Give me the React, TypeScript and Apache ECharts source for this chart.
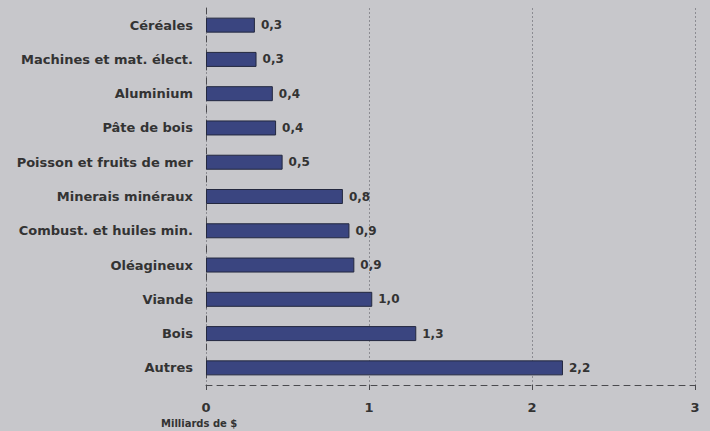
import React, { useEffect, useRef } from "react";
import * as echarts from "echarts";

const categories = [
  "Céréales",
  "Machines et mat. élect.",
  "Aluminium",
  "Pâte de bois",
  "Poisson et fruits de mer",
  "Minerais minéraux",
  "Combust. et huiles min.",
  "Oléagineux",
  "Viande",
  "Bois",
  "Autres",
];
const values = [0.3, 0.31, 0.41, 0.43, 0.47, 0.84, 0.88, 0.91, 1.02, 1.29, 2.19];
const xTicks = [0, 1, 2, 3];
const axisTitle = "Milliards de $";

export default function App() {
  const ref = useRef<HTMLDivElement>(null);
  useEffect(() => {
    if (!ref.current) return;
    const chart = echarts.init(ref.current, null, { renderer: "svg" });
    const font = "DejaVu Sans, sans-serif";
    chart.setOption({
      animation: false,
      backgroundColor: "#c7c7cb",
      grid: { left: 206, right: 15, top: 8, bottom: 46, containLabel: false },
      xAxis: {
        type: "value",
        min: xTicks[0],
        max: xTicks[xTicks.length - 1],
        interval: 1,
        axisLine: { show: true, lineStyle: { color: "#4a4a4e", type: [6, 5], width: 1 } },
        axisTick: { show: true, length: 5, lineStyle: { color: "#4a4a4e" } },
        axisLabel: {
          color: "#333",
          fontWeight: "bold",
          fontSize: 13,
          fontFamily: font,
          margin: 16,
        },
        splitLine: { show: true, lineStyle: { color: "#8c8c92", type: [2, 2], width: 1 } },
      },
      yAxis: {
        type: "category",
        data: categories,
        inverse: true,
        axisLine: { show: true, lineStyle: { color: "#4a4a4e", type: [6, 8], width: 1 } },
        axisTick: { show: false },
        axisLabel: {
          color: "#333",
          fontWeight: "bold",
          fontSize: 13,
          fontFamily: font,
          margin: 13,
        },
      },
      graphic: [
        {
          type: "text",
          left: 161,
          top: 418,
          style: {
            text: axisTitle,
            fill: "#333",
            font: `bold 10px ${font}`,
          },
        },
      ],
      series: [
        {
          type: "bar",
          data: values,
          barWidth: 15,
          itemStyle: { color: "#3a4580", borderColor: "#23283f", borderWidth: 1 },
          label: {
            show: true,
            position: "right",
            distance: 6,
            color: "#333",
            fontWeight: "bold",
            fontSize: 12,
            fontFamily: font,
            formatter: (p: any) => Number(p.value).toFixed(1).replace(".", ","),
          },
        },
      ],
    });
    return () => chart.dispose();
  }, []);
  return (
    <div
      ref={ref}
      style={{ position: "fixed", left: 0, top: 0, width: 710, height: 431 }}
    />
  );
}
